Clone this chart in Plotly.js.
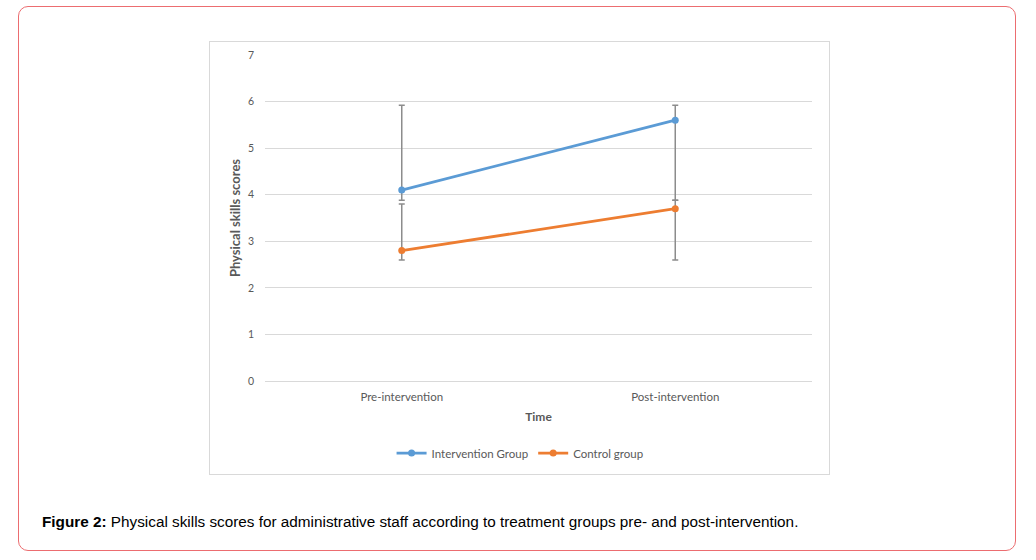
<!DOCTYPE html>
<html>
<head>
<meta charset="utf-8">
<script src="https://cdn.plot.ly/plotly-3.0.1.min.js"></script>
<style>
  html, body { margin:0; padding:0; background:#fff; }
  #wrap { position:relative; width:1036px; height:560px; overflow:hidden; }
  #outer { position:absolute; left:18px; top:6px; width:998px; height:545px; border:1px solid #ec6d70; border-radius:10px; box-sizing:border-box; }
  #frame { position:absolute; left:209px; top:41px; width:621px; height:434px; border:1px solid #d9d9d9; box-sizing:border-box; }
  #chart { position:absolute; left:0; top:0; width:1036px; height:560px; }
  #caption { position:absolute; left:42px; top:513px; font-family:"Liberation Sans", Arial, sans-serif; font-size:15.3px; color:#000; white-space:nowrap; }
</style>
</head>
<body>
<div id="wrap">
  <div id="outer"></div>
  <div id="frame"></div>
  <div id="chart"></div>
  <div id="caption"><b>Figure 2:</b> Physical skills scores for administrative staff according to treatment groups pre- and post-intervention.</div>
</div>
<script>
const categories = ["Pre-intervention", "Post-intervention"];
const interventionValues = [4.1, 5.6];
const interventionErrPlus = [1.82, 0.32];
const interventionErrMinus = [0.22, 1.72];
const controlValues = [2.8, 3.7];
const controlErrPlus = [1.0, 0.18];
const controlErrMinus = [0.2, 1.1];
const yTicks = [0, 1, 2, 3, 4, 5, 6, 7];

const errStyle = { type: "data", symmetric: false, color: "#8c8c8c", thickness: 1.5, width: 3 };

const traces = [
  {
    x: categories, y: interventionValues, name: "Intervention Group",
    type: "scatter", mode: "lines+markers",
    line: { color: "#5b9bd5", width: 2.75 },
    marker: { color: "#5b9bd5", size: 7, symbol: "circle" },
    error_y: Object.assign({}, errStyle, { array: interventionErrPlus, arrayminus: interventionErrMinus })
  },
  {
    x: categories, y: controlValues, name: "Control group",
    type: "scatter", mode: "lines+markers",
    line: { color: "#ed7d31", width: 2.75 },
    marker: { color: "#ed7d31", size: 7, symbol: "circle" },
    error_y: Object.assign({}, errStyle, { array: controlErrPlus, arrayminus: controlErrMinus })
  }
];

const fam = "Lato, 'Open Sans', sans-serif";
const tickFont = { family: fam, size: 10.5, color: "#595959" };

const layout = {
  width: 1036, height: 560,
  margin: { l: 265, r: 224, t: 55, b: 179, pad: 0 },
  paper_bgcolor: "rgba(0,0,0,0)",
  plot_bgcolor: "rgba(0,0,0,0)",
  showlegend: true,
  legend: {
    orientation: "h", xref: "container", yref: "container",
    x: 0.502, xanchor: "center", y: 1 - 453 / 560, yanchor: "middle",
    font: { family: fam, size: 11.5, color: "#595959" },
    itemwidth: 30, traceorder: "normal"
  },
  xaxis: {
    type: "category", range: [-0.5, 1.5],
    showgrid: false, zeroline: false, showline: false,
    ticks: "", ticklabelstandoff: 7,
    tickfont: { family: fam, size: 11.5, color: "#595959" },
    title: { text: "<b>Time</b>", font: { family: fam, size: 12, color: "#595959" }, standoff: 11 },
    automargin: false, fixedrange: true
  },
  yaxis: {
    range: [0, 7], tickvals: yTicks, ticktext: yTicks.map(String),
    showgrid: true, gridcolor: "#d9d9d9", gridwidth: 1,
    zeroline: true, zerolinecolor: "#d9d9d9", zerolinewidth: 1,
    showline: false, ticks: "", ticklabelstandoff: 10,
    tickfont: tickFont,
    title: { text: "<b>Physical skills scores</b>", font: { family: fam, size: 13, color: "#595959" }, standoff: 4 },
    automargin: false, fixedrange: true
  }
};

Plotly.newPlot("chart", traces, layout, { displayModeBar: false, staticPlot: true });
</script>
</body>
</html>
